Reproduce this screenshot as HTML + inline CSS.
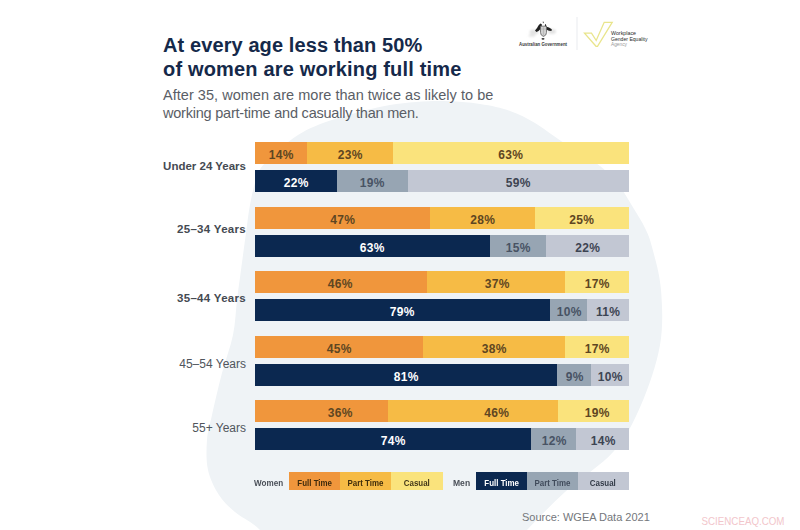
<!DOCTYPE html>
<html><head><meta charset="utf-8">
<style>
html,body{margin:0;padding:0;}
body{width:800px;height:530px;position:relative;overflow:hidden;background:#ffffff;font-family:"Liberation Sans",sans-serif;}
.abs{position:absolute;}
.blob{position:absolute;left:0;top:0;}
.t1{position:absolute;left:163px;top:32.5px;font-weight:bold;font-size:20px;color:#15294a;line-height:24px;white-space:nowrap;}
.sub{position:absolute;left:163px;top:86px;font-size:14.5px;color:#5a5e66;line-height:18px;white-space:nowrap;}
.lab{position:absolute;right:554px;font-weight:bold;font-size:12px;line-height:normal;color:#454a52;white-space:nowrap;}
.bar{position:absolute;left:254.5px;width:374px;height:22px;display:flex;}
.bar div{height:22px;}
.o{background:#f0963c;}
.y{background:#f6bb45;}
.ly{background:#fae37c;}
.n{background:#0b2850;}
.g{background:#97a5b3;}
.lg{background:#c2c7d3;}
.pct{position:absolute;margin-top:2.3px;font-weight:bold;font-size:12px;letter-spacing:0.3px;text-indent:0.3px;white-space:nowrap;transform:translateX(-50%);line-height:22px;}
.pw{color:#5e4622;}
.pm{color:#ffffff;}
.pg{color:#485364;}
.pc{color:#3d4452;}
.leg{position:absolute;top:472px;height:18px;font-size:9px;line-height:18px;white-space:nowrap;text-align:center;font-weight:bold;}
.leg span{display:inline-block;transform:scaleX(0.88);position:relative;top:1.5px;}
.src{position:absolute;left:522px;top:511.3px;font-size:11px;line-height:normal;color:#74777c;white-space:nowrap;}
</style></head>
<body>
<svg class="blob" width="800" height="530" viewBox="0 0 800 530">
<path d="M440 101 C455 100.8 468.3 102.3 480 104 C491.7 105.7 500.8 107.8 510 111 C519.2 114.2 526.5 118 535 123 C543.5 128 550.2 133.8 561 141 C571.8 148.2 590.2 158.3 600 166 C609.8 173.7 614.3 179.8 620 187 C625.7 194.2 629.8 202.2 634 209 C638.2 215.8 642 221.7 645 228 C648 234.3 649.3 236.7 652 247 C654.7 257.3 659.7 273.7 661 290 C662.3 306.3 663.3 325.8 660 345 C656.7 364.2 648.7 387.3 641 405 C633.3 422.7 626.7 436.5 614 451 C601.3 465.5 579.5 478.8 565 492 C550.5 505.2 537.8 518.7 527 530 C516.2 541.3 541.2 555 500 560 C458.8 565 320 565 280 560 C240 555 267.5 538 260 530 C252.5 522 241.8 517.8 235 512 C228.2 506.2 223.5 502 219 495 C214.5 488 210 479.2 208 470 C206 460.8 206.3 449.2 207 440 C207.7 430.8 209.5 426.2 212 415 C214.5 403.8 218.5 386.3 222 373 C225.5 359.7 230.5 347.2 233 335 C235.5 322.8 235.7 310.8 237 300 C238.3 289.2 239.5 281.2 241 270 C242.5 258.8 244.5 243.8 246 233 C247.5 222.2 248.3 213.8 250 205 C251.7 196.2 253.5 187 256 180 C258.5 173 258 170.5 265 163 C272 155.5 286.3 142.3 298 135 C309.7 127.7 319.7 124 335 119 C350.3 114 372.5 108 390 105 C407.5 102 425 101.2 440 101Z" fill="#eff3f6"/>
</svg>

<div class="t1"><span style="letter-spacing:0.1px">At every age less than 50%</span><br><span style="letter-spacing:0.17px">of women are working full time</span></div>
<div class="sub"><span style="letter-spacing:0.03px">After 35, women are more than twice as likely to be</span><br><span style="letter-spacing:-0.22px">working part-time and casually than men.</span></div>

<!-- logos -->
<svg class="abs" style="left:0;top:0" width="800" height="60" viewBox="0 0 800 60">
  <defs>
    <filter id="bl" x="-20%" y="-20%" width="140%" height="140%"><feGaussianBlur stdDeviation="0.45"/></filter>
    <filter id="bl2" x="-20%" y="-20%" width="140%" height="140%"><feGaussianBlur stdDeviation="0.9"/></filter>
  </defs>
  <g filter="url(#bl2)" fill="#e2e2e2">
    <ellipse cx="534" cy="32" rx="4.5" ry="2.5"/>
    <ellipse cx="552" cy="31.5" rx="4" ry="2.5"/>
    <ellipse cx="532" cy="35.5" rx="3.5" ry="1.2"/>
  </g>
  <g filter="url(#bl)">
    <path d="M540.5 23.5 L538.8 25 L537 28 L535 30.5 L536.5 32 L538.5 31 L540.5 29 L541.8 26.5 L541.8 24.2 Z" fill="#222"/>
    <path d="M545.8 24 L546.5 26.8 L549 27.6 L551.8 29.2 L551.5 31 L549 30.8 L546 29.5 L544.8 27 L545 24.5 Z" fill="#222"/>
    <path d="M542.5 21.8 L543.3 23.5 L544 21.8 Z" fill="#333"/>
    <path d="M540.5 26.2 H546.5 V32.5 Q546.5 35.5 543.5 36.5 Q540.5 35.5 540.5 32.5 Z" fill="#d0d0d0" stroke="#666" stroke-width="0.8"/>
    <path d="M541 29 H546 M543.5 26.5 V36" stroke="#999" stroke-width="0.4"/>
    <ellipse cx="543" cy="38.8" rx="1.5" ry="0.9" fill="#333"/>
  </g>
  <text x="519" y="46" font-family="Liberation Sans" font-size="4.6" font-weight="bold" fill="#3a3a3a" textLength="48" lengthAdjust="spacingAndGlyphs">Australian Government</text>
  <rect x="576.6" y="17" width="0.8" height="33" fill="#e4e6ea"/>
  <g filter="url(#bl)" fill="none" stroke="#e9e58c" stroke-width="1.3" stroke-linejoin="miter">
    <path d="M584.5 33.2 L591.5 33.2 L596.2 40.5 L604.2 22.3 L612.2 22.3 L597.5 46.3 L596 46.3 Z"/>
  </g>
  <g font-family="Liberation Sans" font-size="5.4">
    <text x="611" y="34.5" fill="#2a2a2a" textLength="25" lengthAdjust="spacingAndGlyphs">Workplace</text>
    <text x="611" y="40.5" fill="#2a2a2a" textLength="36.5" lengthAdjust="spacingAndGlyphs">Gender Equality</text>
    <text x="611" y="46" fill="#999" textLength="16" lengthAdjust="spacingAndGlyphs">Agency</text>
  </g>
</svg>

<!-- Row labels -->
<div class="lab" style="top:160px;font-size:11.5px">Under 24 Years</div>
<div class="lab" style="top:222.8px;font-size:11.5px;letter-spacing:0.3px">25–34 Years</div>
<div class="lab" style="top:292.3px;font-size:11.5px;letter-spacing:0.3px">35–44 Years</div>
<div class="lab" style="top:356.6px;font-weight:normal;color:#50555c;letter-spacing:0px">45–54 Years</div>
<div class="lab" style="top:421.2px;font-weight:normal;font-size:12px;color:#50555c">55+ Years</div>

<!-- Row 1 -->
<div class="bar" style="top:142px"><div class="o" style="flex:14"></div><div class="y" style="flex:23"></div><div class="ly" style="flex:63"></div></div>
<div class="bar" style="top:170px"><div class="n" style="flex:22"></div><div class="g" style="flex:19"></div><div class="lg" style="flex:59"></div></div>
<!-- Row 2 -->
<div class="bar" style="top:206.5px"><div class="o" style="flex:47"></div><div class="y" style="flex:28"></div><div class="ly" style="flex:25"></div></div>
<div class="bar" style="top:234.5px"><div class="n" style="flex:63"></div><div class="g" style="flex:15"></div><div class="lg" style="flex:22"></div></div>
<!-- Row 3 -->
<div class="bar" style="top:271px"><div class="o" style="flex:46"></div><div class="y" style="flex:37"></div><div class="ly" style="flex:17"></div></div>
<div class="bar" style="top:299px"><div class="n" style="flex:79"></div><div class="g" style="flex:10"></div><div class="lg" style="flex:11"></div></div>
<!-- Row 4 -->
<div class="bar" style="top:335.5px"><div class="o" style="flex:45"></div><div class="y" style="flex:38"></div><div class="ly" style="flex:17"></div></div>
<div class="bar" style="top:363.5px"><div class="n" style="flex:81"></div><div class="g" style="flex:9"></div><div class="lg" style="flex:10"></div></div>
<!-- Row 5 -->
<div class="bar" style="top:400px"><div class="o" style="flex:36"></div><div class="y" style="flex:46"></div><div class="ly" style="flex:19"></div></div>
<div class="bar" style="top:428px"><div class="n" style="flex:74"></div><div class="g" style="flex:12"></div><div class="lg" style="flex:14"></div></div>

<!-- Percent labels -->
<div class="pct pw" style="left:281px;top:142px">14%</div>
<div class="pct pw" style="left:350px;top:142px">23%</div>
<div class="pct pw" style="left:510.5px;top:142px">63%</div>
<div class="pct pm" style="left:296px;top:170px">22%</div>
<div class="pct pg" style="left:372px;top:170px">19%</div>
<div class="pct pc" style="left:518px;top:170px">59%</div>

<div class="pct pw" style="left:342.5px;top:206.5px">47%</div>
<div class="pct pw" style="left:482.5px;top:206.5px">28%</div>
<div class="pct pw" style="left:581.5px;top:206.5px">25%</div>
<div class="pct pm" style="left:372px;top:234.5px">63%</div>
<div class="pct pg" style="left:518px;top:234.5px">15%</div>
<div class="pct pc" style="left:587.5px;top:234.5px">22%</div>

<div class="pct pw" style="left:340px;top:271px">46%</div>
<div class="pct pw" style="left:497px;top:271px">37%</div>
<div class="pct pw" style="left:597px;top:271px">17%</div>
<div class="pct pm" style="left:402px;top:299px">79%</div>
<div class="pct pg" style="left:569px;top:299px">10%</div>
<div class="pct pc" style="left:608px;top:299px">11%</div>

<div class="pct pw" style="left:339px;top:335.5px">45%</div>
<div class="pct pw" style="left:494px;top:335.5px">38%</div>
<div class="pct pw" style="left:597px;top:335.5px">17%</div>
<div class="pct pm" style="left:406px;top:363.5px">81%</div>
<div class="pct pg" style="left:574.5px;top:363.5px">9%</div>
<div class="pct pc" style="left:610px;top:363.5px">10%</div>

<div class="pct pw" style="left:340px;top:400px">36%</div>
<div class="pct pw" style="left:496.5px;top:400px">46%</div>
<div class="pct pw" style="left:597px;top:400px">19%</div>
<div class="pct pm" style="left:393px;top:428px">74%</div>
<div class="pct pg" style="left:554px;top:428px">12%</div>
<div class="pct pc" style="left:603px;top:428px">14%</div>

<!-- Legend -->
<div class="leg" style="left:254px;color:#4a4f58;text-align:left;font-weight:bold"><span style="display:inline-block;transform:scaleX(0.9);transform-origin:left center">Women</span></div>
<div class="leg o" style="left:289px;width:50.5px;color:#3f2a0c"><span>Full Time</span></div>
<div class="leg y" style="left:339.5px;width:51.5px;color:#3f2d0c"><span>Part Time</span></div>
<div class="leg ly" style="left:391px;width:52px;color:#44381a"><span>Casual</span></div>
<div class="leg" style="left:453px;color:#4a4f58;text-align:left;font-weight:bold"><span style="display:inline-block;transform:scaleX(0.95);transform-origin:left center">Men</span></div>
<div class="leg n" style="left:476px;width:50.5px;color:#fff"><span>Full Time</span></div>
<div class="leg g" style="left:526.5px;width:51px;color:#404b5b"><span>Part Time</span></div>
<div class="leg lg" style="left:577.5px;width:51px;color:#333b48"><span>Casual</span></div>

<div class="src">Source: WGEA Data 2021</div>
<svg class="abs" style="left:690px;top:505px" width="110" height="25" viewBox="0 0 110 25"><text x="11.5" y="19.8" font-family="Liberation Sans" font-size="10.4" fill="#f2c6cb" textLength="83" lengthAdjust="spacingAndGlyphs">SCIENCEAQ.COM</text></svg>
</body></html>
